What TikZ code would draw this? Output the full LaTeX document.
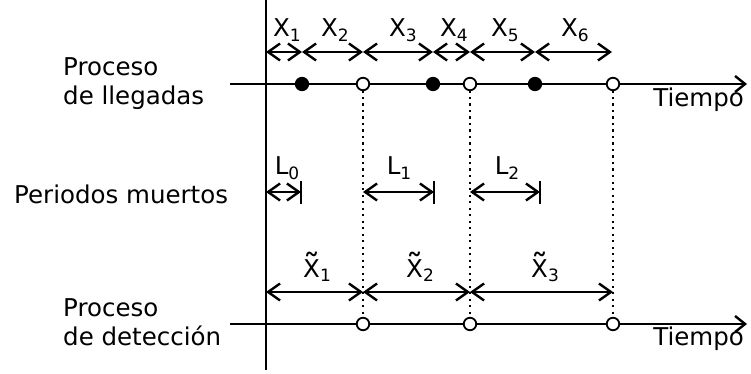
\documentclass[tikz,border=0pt]{standalone}
\usepackage{fontspec}
\setmainfont{DejaVu Sans}
\usetikzlibrary{arrows.meta}
\newcommand{\lsub}[1]{\raisebox{-0.2em}{\fontsize{17}{17}\selectfont #1}}
\newcommand{\tX}{\leavevmode\vbox{\offinterlineskip\halign{\hfil##\hfil\cr{\fontsize{34}{34}\selectfont\char"02DC}\cr\noalign{\kern-19pt}X\cr}}}
\begin{document}
\begin{tikzpicture}[x=1pt,y=-1pt,line width=2.4pt,
  seg/.style={{Straight Barb[length=12pt,width=17pt]}-{Straight Barb[length=12pt,width=17pt]}},
  axisline/.style={-{Straight Barb[length=10pt,width=16pt]}},
  opendot/.style={circle,draw,fill=white,inner sep=0pt,minimum size=12.5pt,line width=1.8pt},
  fulldot/.style={circle,draw,fill=black,inner sep=0pt,minimum size=12.5pt,line width=1.8pt},
  txt/.style={inner sep=0pt,font=\fontsize{24.5}{29}\selectfont},
  lbl/.style={txt,anchor=base},
  guide/.style={line width=2.4pt,dash pattern=on 2.2pt off 4.3pt}]
\useasboundingbox (0,0) rectangle (751,374);
\fill[white] (0,0) rectangle (751,374);
% vertical axis
\coordinate (vtop) at (266,0);
\coordinate (vbot) at (266,370);
\draw (vtop) -- (vbot);
% time axes
\coordinate (ast) at (230,84);
\coordinate (aen) at (747,84);
\coordinate (dst) at (230,324);
\coordinate (den) at (747,324);
\draw[axisline] (ast) -- (aen);
\draw[axisline] (dst) -- (den);
% dotted guides
\coordinate (g1t) at (363,84);
\coordinate (g2t) at (470,84);
\coordinate (g3t) at (613,84);
\coordinate (g1b) at (363,324);
\coordinate (g2b) at (470,324);
\coordinate (g3b) at (613,324);
\draw[guide] (g1t) -- (g1b);
\draw[guide] (g2t) -- (g2b);
\draw[guide] (g3t) -- (g3b);
% arrival dots
\node[fulldot] (a1) at (302,84) {};
\node[opendot] (a2) at (g1t) {};
\node[fulldot] (a3) at (433,84) {};
\node[opendot] (a4) at (g2t) {};
\node[fulldot] (a5) at (535,84) {};
\node[opendot] (a6) at (g3t) {};
% detection dots
\node[opendot] (d1) at (g1b) {};
\node[opendot] (d2) at (g2b) {};
\node[opendot] (d3) at (g3b) {};
% X row
\coordinate (t0) at (266,52);
\coordinate (t1) at (302,52);
\coordinate (t2) at (363,52);
\coordinate (t3) at (433,52);
\coordinate (t4) at (470,52);
\coordinate (t5) at (535,52);
\coordinate (t6) at (612,52);
\draw[seg] (t0) -- (t1);
\draw[seg] (t1) -- (t2);
\draw[seg] (t2) -- (t3);
\draw[seg] (t3) -- (t4);
\draw[seg] (t4) -- (t5);
\draw[seg] (t5) -- (t6);
\node[lbl] (x1) at (287,37) {X\lsub{1}};
\node[lbl] (x2) at (335,37) {X\lsub{2}};
\node[lbl] (x3) at (403,37) {X\lsub{3}};
\node[lbl] (x4) at (454,37) {X\lsub{4}};
\node[lbl] (x5) at (505,37) {X\lsub{5}};
\node[lbl] (x6) at (575,37) {X\lsub{6}};
% L row
\coordinate (l0a) at (266,192);
\coordinate (l0b) at (301,192);
\coordinate (l1a) at (363,192);
\coordinate (l1b) at (434,192);
\coordinate (l2a) at (470,192);
\coordinate (l2b) at (540,192);
\draw[seg] (l0a) -- (l0b);
\draw[seg] (l1a) -- (l1b);
\draw[seg] (l2a) -- (l2b);
\draw ([yshift=-12pt]l0b) -- ([yshift=11pt]l0b);
\draw ([yshift=-12pt]l1b) -- ([yshift=11pt]l1b);
\draw ([yshift=-12pt]l2b) -- ([yshift=11pt]l2b);
\node[lbl] (lab0) at (287,175) {L\lsub{0}};
\node[lbl] (lab1) at (399,175) {L\lsub{1}};
\node[lbl] (lab2) at (507,175) {L\lsub{2}};
% tilde X row
\coordinate (w0) at (266,292);
\coordinate (w1) at (363,292);
\coordinate (w2) at (470,292);
\coordinate (w3) at (613,292);
\draw[seg] (w0) -- (w1);
\draw[seg] (w1) -- (w2);
\draw[seg] (w2) -- (w3);
\node[lbl] (xt1) at (317,277) {\tX\lsub{1}};
\node[lbl] (xt2) at (420,277) {\tX\lsub{2}};
\node[lbl] (xt3) at (545,277) {\tX\lsub{3}};
% texts
\node[txt,anchor=base west] (pl1) at (62,76) {Proceso};
\node[txt,anchor=base west] (pl2) at (62,105) {de llegadas};
\node[txt,anchor=base west] (pm) at (13,203) {Periodos muertos};
\node[txt,anchor=base west] (pd1) at (62,316) {Proceso};
\node[txt,anchor=base west] (pd2) at (62,345) {de detección};
\node[txt,anchor=base east] (tp1) at (745,107) {Tiempo};
\node[txt,anchor=base east] (tp2) at (745,345) {Tiempo};
\end{tikzpicture}
\end{document}
